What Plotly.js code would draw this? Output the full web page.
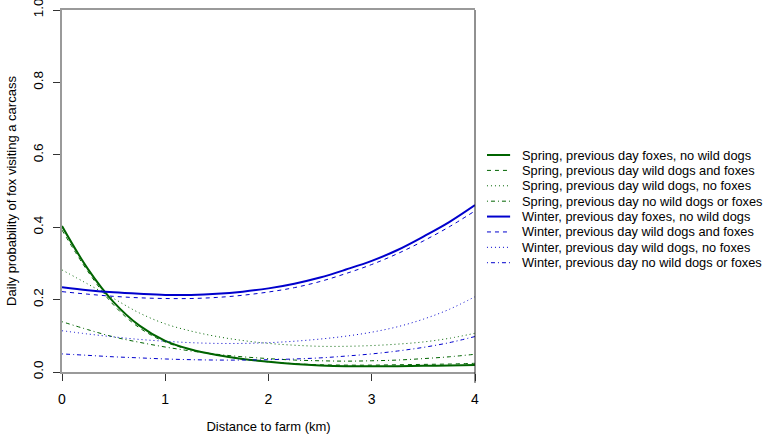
<!DOCTYPE html>
<html>
<head>
<meta charset="utf-8">
<script src="https://cdn.plot.ly/plotly-3.0.1.min.js"></script>
<style>html,body{margin:0;padding:0;background:#fff;}#chart{width:765px;height:438px;}</style>
</head>
<body>
<div id="chart"></div>
<script>
// ---- data ----
const distanceKm = [0,0.25,0.5,0.75,1,1.25,1.5,1.75,2,2.25,2.5,2.75,3,3.25,3.5,3.75,4];

const springFoxesNoDogs   = [0.403,0.285,0.193,0.128,0.086,0.062,0.047,0.036,0.028,0.022,0.018,0.016,0.016,0.016,0.017,0.018,0.019];
const springDogsAndFoxes  = [0.392,0.278,0.185,0.122,0.083,0.061,0.047,0.036,0.028,0.023,0.020,0.019,0.019,0.020,0.021,0.022,0.024];
const springDogsNoFoxes   = [0.282,0.243,0.203,0.163,0.133,0.113,0.098,0.087,0.079,0.074,0.071,0.071,0.073,0.077,0.083,0.093,0.107];
const springNoDogsNoFoxes = [0.139,0.117,0.097,0.082,0.069,0.058,0.049,0.042,0.037,0.033,0.031,0.030,0.031,0.033,0.037,0.042,0.049];
const winterFoxesNoDogs   = [0.234,0.226,0.220,0.216,0.213,0.213,0.216,0.222,0.231,0.244,0.261,0.283,0.307,0.337,0.374,0.414,0.461];
const winterDogsAndFoxes  = [0.222,0.215,0.209,0.205,0.203,0.203,0.206,0.212,0.221,0.233,0.250,0.272,0.297,0.327,0.362,0.401,0.445];
const winterDogsNoFoxes   = [0.114,0.105,0.097,0.090,0.085,0.081,0.079,0.079,0.081,0.085,0.091,0.099,0.110,0.125,0.146,0.173,0.208];
const winterNoDogsNoFoxes = [0.050,0.046,0.042,0.039,0.036,0.034,0.033,0.033,0.034,0.036,0.039,0.044,0.050,0.058,0.068,0.081,0.098];

const seriesNames = [
  "Spring, previous day foxes, no wild dogs",
  "Spring, previous day wild dogs and foxes",
  "Spring, previous day wild dogs, no foxes",
  "Spring, previous day no wild dogs or foxes",
  "Winter, previous day foxes, no wild dogs",
  "Winter, previous day wild dogs and foxes",
  "Winter, previous day wild dogs, no foxes",
  "Winter, previous day no wild dogs or foxes"
];
const seriesValues = [springFoxesNoDogs, springDogsAndFoxes, springDogsNoFoxes, springNoDogsNoFoxes,
                      winterFoxesNoDogs, winterDogsAndFoxes, winterDogsNoFoxes, winterNoDogsNoFoxes];
const xTicks = [0,1,2,3,4];
const yTicks = [0,0.2,0.4,0.6,0.8,1.0];
const yTickText = ["0.0","0.2","0.4","0.6","0.8","1.0"];

// ---- styles ----
const GREEN = "#006400", BLUE = "#0000CD";
const colors = [GREEN,GREEN,GREEN,GREEN,BLUE,BLUE,BLUE,BLUE];
const dashes = ["solid","4px,4px","1px,3px","1px,3px,4px,3px","solid","4px,4px","1px,3px","1px,3px,4px,3px"];
const widths = [2,1,1,1,2,1,1,1];
const FONT = "Liberation Sans, Arial, sans-serif";

const traces = seriesValues.map((vals, i) => ({
  x: distanceKm, y: vals, name: seriesNames[i], type: "scatter", mode: "lines",
  line: {color: colors[i], width: widths[i], dash: dashes[i], shape: "spline", smoothing: 1},
  showlegend: false, hoverinfo: "skip"
}));

// manual legend (compact rows like the original)
const shapes = [];
const annotations = [];
const legTop = 0.5994, legStep = 0.0425;
seriesNames.forEach((nm, i) => {
  const yy = legTop - i * legStep;
  shapes.push({type: "line", xref: "paper", yref: "paper", x0: 1.029, x1: 1.085, y0: yy, y1: yy,
               line: {color: colors[i], width: widths[i], dash: dashes[i]}});
  annotations.push({xref: "paper", yref: "paper", x: 1.108, y: yy, xanchor: "left", yanchor: "middle",
                    text: nm, showarrow: false, font: {family: FONT, size: 12.8, color: "#000"}});
});
// right border line
shapes.push({type: "line", xref: "paper", yref: "paper", x0: 1, x1: 1, y0: -0.03, y1: 1,
             line: {color: "#222", width: 1}});

const layout = {
  width: 765, height: 438,
  margin: {l: 62, r: 290, t: 10, b: 66},
  paper_bgcolor: "#fff", plot_bgcolor: "#fff",
  font: {family: FONT, size: 13, color: "#000"},
  xaxis: {
    range: [-0.00001, 4.00001], tickvals: xTicks, ticktext: xTicks.map(String),
    showgrid: false, zeroline: false,
    showline: true, linecolor: "#9a9a9a", linewidth: 2, mirror: true,
    ticks: "outside", ticklen: 7, tickcolor: "#333", tickwidth: 1,
    ticklabelstandoff: 6, ticklabeloverflow: "allow",
    tickfont: {family: FONT, size: 14, color: "#000"},
    title: {text: "Distance to farm (km)", font: {family: FONT, size: 13, color: "#000"}, standoff: 16},
    automargin: false
  },
  yaxis: {
    range: [-0.000001, 1.000001], tickvals: yTicks, ticktext: yTickText, tickangle: -90,
    showgrid: false, zeroline: false,
    showline: true, linecolor: "#9a9a9a", linewidth: 2,
    ticks: "outside", ticklen: 7, tickcolor: "#333", tickwidth: 1,
    ticklabelstandoff: 5, ticklabeloverflow: "allow",
    tickfont: {family: FONT, size: 13.5, color: "#000"},
    title: {text: "Daily probability of fox visiting a carcass", font: {family: FONT, size: 13, color: "#000"}, standoff: 11},
    automargin: false
  },
  shapes: shapes,
  annotations: annotations
};

Plotly.newPlot("chart", traces, layout, {staticPlot: true, displayModeBar: false});
</script>
</body>
</html>
